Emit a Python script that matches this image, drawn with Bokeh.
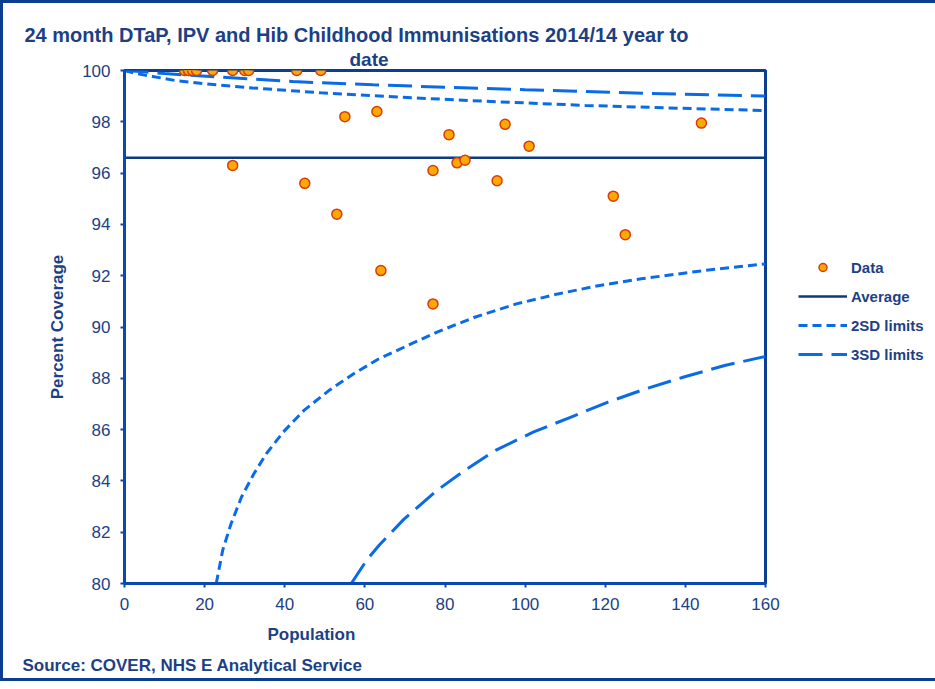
from bokeh.plotting import figure
from bokeh.models import Range1d, Legend, LegendItem, FixedTicker, Title
from bokeh.embed import file_html
from bokeh.resources import INLINE

# ---- data ----
pop = [15, 16, 16, 17, 18, 22, 27, 30, 31, 43, 49,
       27, 45, 53, 55, 63, 64, 77, 77, 81, 83, 85, 93, 95, 101, 122, 125, 144]
coverage = [100, 100, 100, 100, 100, 100, 100, 100, 100, 100, 100,
            96.3, 95.6, 94.4, 98.2, 98.4, 92.2, 96.1, 90.9, 97.5, 96.4, 96.5, 95.7, 97.9, 97.05, 95.1, 93.6, 97.95]
average = 96.6
avg_x = [0, 160]

upper2_x = [0, 3, 7, 13, 20, 32, 49, 69, 90, 115, 138, 160]
upper2_y = [100, 99.88, 99.77, 99.6, 99.48, 99.32, 99.13, 98.96, 98.8, 98.64, 98.53, 98.44]
upper3_x = [0, 5, 10, 24, 42, 62, 80, 100, 115, 138, 160]
upper3_y = [100, 99.95, 99.88, 99.74, 99.57, 99.44, 99.35, 99.25, 99.18, 99.08, 99.0]
lower2_x = [22.9, 24.5, 26.6, 29.2, 32.3, 35.4, 39.6, 44.8, 51.0, 57.2, 63.5, 71.8, 78.0,
            87.4, 97.8, 108.2, 118.6, 129.0, 144.6, 160.0]
lower2_y = [80.0, 81.29, 82.33, 83.37, 84.28, 85.06, 85.9, 86.75, 87.52, 88.18, 88.76, 89.36, 89.8,
            90.38, 90.9, 91.29, 91.62, 91.88, 92.2, 92.46]
lower3_x = [56.6, 60.4, 63.5, 69.7, 78.0, 85.3, 92.6, 102.0, 111.3, 120.7, 130.1, 139.4, 149.8, 160.0]
lower3_y = [80.0, 80.9, 81.48, 82.5, 83.63, 84.45, 85.19, 85.9, 86.48, 87.07, 87.59, 88.04, 88.5, 88.85]

x_ticks = [0, 20, 40, 60, 80, 100, 120, 140, 160]
y_ticks = [80, 82, 84, 86, 88, 90, 92, 94, 96, 98, 100]

TEXT = "#1C3F85"
AXIS = "#0A4AB0"
FRAME = "#0B3D91"
LIMIT = "#0A6BE6"
FONT = "Liberation Sans"

p = figure(frame_width=641, frame_height=513,
           min_border_left=121, min_border_right=159,
           min_border_top=67, min_border_bottom=95,
           x_range=Range1d(0, 160), y_range=Range1d(80, 100),
           output_backend="svg", toolbar_location=None, tools="")
p.styles = {"border": "3px solid " + FRAME}

p.grid.visible = False
p.outline_line_color = FRAME
p.outline_line_width = 3
p.background_fill_color = "white"
p.border_fill_color = "white"

for ax in (p.xaxis[0], p.yaxis[0]):
    ax.axis_line_color = AXIS
    ax.axis_line_width = 3
    ax.major_tick_line_color = AXIS
    ax.major_tick_line_width = 2
    ax.major_tick_out = 4
    ax.major_tick_in = 0
    ax.minor_tick_line_color = None
    ax.major_label_text_font = FONT
    ax.major_label_text_font_size = "17px"
    ax.major_label_text_color = TEXT
    ax.major_label_standoff = 10
p.xaxis[0].ticker = FixedTicker(ticks=x_ticks)
p.yaxis[0].ticker = FixedTicker(ticks=y_ticks)
p.yaxis[0].axis_label = "Percent Coverage"
p.yaxis[0].axis_label_standoff = 12
p.yaxis[0].axis_label_text_font = FONT
p.yaxis[0].axis_label_text_font_size = "17px"
p.yaxis[0].axis_label_text_font_style = "bold"
p.yaxis[0].axis_label_text_color = TEXT

# lines
r_u3 = p.line(upper3_x, upper3_y, line_color=LIMIT, line_width=3, line_dash="24 9")
r_l3 = p.line(lower3_x, lower3_y, line_color=LIMIT, line_width=3, line_dash="24 9")
r_u2 = p.line(upper2_x, upper2_y, line_color=LIMIT, line_width=3, line_dash="9 5")
r_l2 = p.line(lower2_x, lower2_y, line_color=LIMIT, line_width=3, line_dash="9 5")
r_avg = p.line(avg_x, [average, average], line_color="#0E3A80", line_width=2.5)
r_pts = p.scatter(pop, coverage, size=10, fill_color="#FFA800",
                  line_color="#D83C08", line_width=1.5)

legend = Legend(items=[
    LegendItem(label="Data", renderers=[r_pts]),
    LegendItem(label="Average", renderers=[r_avg]),
    LegendItem(label="2SD limits", renderers=[r_u2]),
    LegendItem(label="3SD limits", renderers=[r_u3]),
], location=(33, 219))
legend.border_line_alpha = 0
legend.background_fill_alpha = 0
legend.padding = 0
legend.margin = 0
legend.spacing = 9
legend.glyph_width = 49
legend.glyph_height = 20
legend.label_height = 20
legend.label_standoff = 4
legend.label_text_font = FONT
legend.label_text_font_size = "15px"
legend.label_text_font_style = "bold"
legend.label_text_color = TEXT
p.add_layout(legend, "right")

def make_title(txt, offset, standoff, size="17px"):
    return Title(text=txt, align="left", offset=offset, standoff=standoff,
                 text_font=FONT, text_font_size=size, text_font_style="bold",
                 text_color=TEXT)

# above: first added is closest to the frame
p.add_layout(make_title("date", 225, 2, "19px"), "above")
p.add_layout(make_title("24 month DTaP, IPV and Hib Childhood Immunisations 2014/14 year to", -100, 0, "20px"), "above")
# below: after the x axis
p.add_layout(make_title("Population", 143, 20), "below")
p.add_layout(make_title("Source: COVER, NHS E Analytical Service", -102, 1), "below")

open("out.html", "w").write(file_html(p, INLINE))
